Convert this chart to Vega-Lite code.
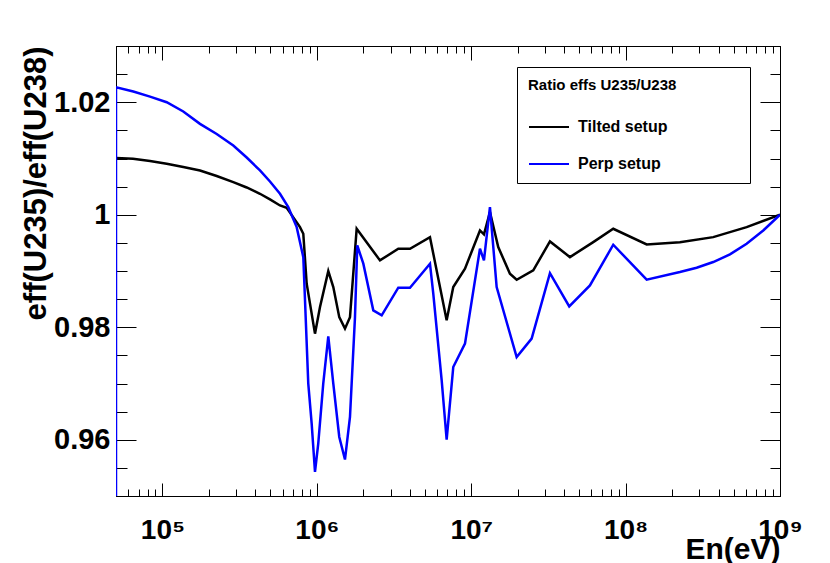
{
  "$schema": "https://vega.github.io/schema/vega-lite/v6.json",
  "autosize": {"type": "none"},
  "width": 664,
  "height": 450,
  "padding": {"left": 116, "top": 46, "right": 50, "bottom": 67},
  "background": "white",
  "config": {
    "font": "Liberation Sans",
    "view": {"stroke": "black", "strokeWidth": 1},
    "axis": {"grid": false, "domainColor": "black", "domainWidth": 1, "tickColor": "black", "tickWidth": 1, "labelColor": "black", "titleColor": "black", "labelFont": "Liberation Sans", "titleFont": "Liberation Sans", "labelFontWeight": "bold", "titleFontWeight": "bold"}
  },
  "data": {"values": [
    {"series": "Tilted setup", "i": 1, "E": 50000, "ratio": 1.0101},
    {"series": "Tilted setup", "i": 2, "E": 64440, "ratio": 1.00995},
    {"series": "Tilted setup", "i": 3, "E": 83050, "ratio": 1.00956},
    {"series": "Tilted setup", "i": 4, "E": 106500, "ratio": 1.00906},
    {"series": "Tilted setup", "i": 5, "E": 136400, "ratio": 1.00849},
    {"series": "Tilted setup", "i": 6, "E": 175000, "ratio": 1.00787},
    {"series": "Tilted setup", "i": 7, "E": 224500, "ratio": 1.00689},
    {"series": "Tilted setup", "i": 8, "E": 287500, "ratio": 1.00579},
    {"series": "Tilted setup", "i": 9, "E": 351200, "ratio": 1.00485},
    {"series": "Tilted setup", "i": 10, "E": 428100, "ratio": 1.00373},
    {"series": "Tilted setup", "i": 11, "E": 497000, "ratio": 1.00272},
    {"series": "Tilted setup", "i": 12, "E": 577000, "ratio": 1.00165},
    {"series": "Tilted setup", "i": 13, "E": 637600, "ratio": 1.00125},
    {"series": "Tilted setup", "i": 14, "E": 777600, "ratio": 0.9978},
    {"series": "Tilted setup", "i": 15, "E": 816900, "ratio": 0.99662},
    {"series": "Tilted setup", "i": 16, "E": 859300, "ratio": 0.98774},
    {"series": "Tilted setup", "i": 17, "E": 972500, "ratio": 0.97886},
    {"series": "Tilted setup", "i": 18, "E": 1048000, "ratio": 0.98359},
    {"series": "Tilted setup", "i": 19, "E": 1186000, "ratio": 0.98998},
    {"series": "Tilted setup", "i": 20, "E": 1278000, "ratio": 0.98714},
    {"series": "Tilted setup", "i": 21, "E": 1397000, "ratio": 0.9818},
    {"series": "Tilted setup", "i": 22, "E": 1521000, "ratio": 0.97975},
    {"series": "Tilted setup", "i": 23, "E": 1639000, "ratio": 0.9818},
    {"series": "Tilted setup", "i": 24, "E": 1811000, "ratio": 0.99751},
    {"series": "Tilted setup", "i": 25, "E": 2564000, "ratio": 0.99188},
    {"series": "Tilted setup", "i": 26, "E": 3369000, "ratio": 0.99396},
    {"series": "Tilted setup", "i": 27, "E": 4011000, "ratio": 0.99396},
    {"series": "Tilted setup", "i": 28, "E": 5404000, "ratio": 0.99602},
    {"series": "Tilted setup", "i": 29, "E": 6930000, "ratio": 0.98123},
    {"series": "Tilted setup", "i": 30, "E": 7648000, "ratio": 0.98714},
    {"series": "Tilted setup", "i": 31, "E": 9110000, "ratio": 0.99041},
    {"series": "Tilted setup", "i": 32, "E": 11390000, "ratio": 0.99721},
    {"series": "Tilted setup", "i": 33, "E": 12090000, "ratio": 0.9965},
    {"series": "Tilted setup", "i": 34, "E": 13220000, "ratio": 1.00047},
    {"series": "Tilted setup", "i": 35, "E": 14960000, "ratio": 0.99425},
    {"series": "Tilted setup", "i": 36, "E": 17810000, "ratio": 0.98952},
    {"series": "Tilted setup", "i": 37, "E": 19690000, "ratio": 0.98845},
    {"series": "Tilted setup", "i": 38, "E": 25220000, "ratio": 0.99011},
    {"series": "Tilted setup", "i": 39, "E": 32350000, "ratio": 0.99526},
    {"series": "Tilted setup", "i": 40, "E": 43580000, "ratio": 0.99247},
    {"series": "Tilted setup", "i": 41, "E": 61700000, "ratio": 0.99513},
    {"series": "Tilted setup", "i": 42, "E": 83150000, "ratio": 0.99751},
    {"series": "Tilted setup", "i": 43, "E": 136900000, "ratio": 0.99472},
    {"series": "Tilted setup", "i": 44, "E": 224700000, "ratio": 0.99513},
    {"series": "Tilted setup", "i": 45, "E": 369400000, "ratio": 0.99602},
    {"series": "Tilted setup", "i": 46, "E": 607900000, "ratio": 0.9978},
    {"series": "Tilted setup", "i": 47, "E": 1000000000, "ratio": 1.0},
    {"series": "Perp setup", "i": 0, "E": 50000, "ratio": 0.95},
    {"series": "Perp setup", "i": 1, "E": 50000, "ratio": 1.02266},
    {"series": "Perp setup", "i": 2, "E": 64730, "ratio": 1.0219},
    {"series": "Perp setup", "i": 3, "E": 83050, "ratio": 1.021},
    {"series": "Perp setup", "i": 4, "E": 106500, "ratio": 1.02},
    {"series": "Perp setup", "i": 5, "E": 136400, "ratio": 1.01835},
    {"series": "Perp setup", "i": 6, "E": 175000, "ratio": 1.01616},
    {"series": "Perp setup", "i": 7, "E": 224500, "ratio": 1.01435},
    {"series": "Perp setup", "i": 8, "E": 287500, "ratio": 1.01231},
    {"series": "Perp setup", "i": 9, "E": 351200, "ratio": 1.01018},
    {"series": "Perp setup", "i": 10, "E": 428100, "ratio": 1.00787},
    {"series": "Perp setup", "i": 11, "E": 497000, "ratio": 1.00591},
    {"series": "Perp setup", "i": 12, "E": 577000, "ratio": 1.00373},
    {"series": "Perp setup", "i": 13, "E": 652900, "ratio": 1.00135},
    {"series": "Perp setup", "i": 14, "E": 740100, "ratio": 0.9978},
    {"series": "Perp setup", "i": 15, "E": 816900, "ratio": 0.99247},
    {"series": "Perp setup", "i": 16, "E": 830000, "ratio": 0.98774},
    {"series": "Perp setup", "i": 17, "E": 879900, "ratio": 0.96998},
    {"series": "Perp setup", "i": 18, "E": 925600, "ratio": 0.96288},
    {"series": "Perp setup", "i": 19, "E": 972500, "ratio": 0.95428},
    {"series": "Perp setup", "i": 20, "E": 1021000, "ratio": 0.95933},
    {"series": "Perp setup", "i": 21, "E": 1100000, "ratio": 0.96998},
    {"series": "Perp setup", "i": 22, "E": 1186000, "ratio": 0.97838},
    {"series": "Perp setup", "i": 23, "E": 1278000, "ratio": 0.96998},
    {"series": "Perp setup", "i": 24, "E": 1397000, "ratio": 0.9605},
    {"series": "Perp setup", "i": 25, "E": 1521000, "ratio": 0.95648},
    {"series": "Perp setup", "i": 26, "E": 1639000, "ratio": 0.96405},
    {"series": "Perp setup", "i": 27, "E": 1766000, "ratio": 0.98181},
    {"series": "Perp setup", "i": 28, "E": 1827000, "ratio": 0.99455},
    {"series": "Perp setup", "i": 29, "E": 2000000, "ratio": 0.9913},
    {"series": "Perp setup", "i": 30, "E": 2320000, "ratio": 0.983},
    {"series": "Perp setup", "i": 31, "E": 2630000, "ratio": 0.98211},
    {"series": "Perp setup", "i": 32, "E": 3369000, "ratio": 0.98703},
    {"series": "Perp setup", "i": 33, "E": 4011000, "ratio": 0.98703},
    {"series": "Perp setup", "i": 34, "E": 5404000, "ratio": 0.9913},
    {"series": "Perp setup", "i": 35, "E": 5677000, "ratio": 0.98597},
    {"series": "Perp setup", "i": 36, "E": 6435000, "ratio": 0.97057},
    {"series": "Perp setup", "i": 37, "E": 6930000, "ratio": 0.96004},
    {"series": "Perp setup", "i": 38, "E": 7648000, "ratio": 0.97293},
    {"series": "Perp setup", "i": 39, "E": 9110000, "ratio": 0.97709},
    {"series": "Perp setup", "i": 40, "E": 11390000, "ratio": 0.99396},
    {"series": "Perp setup", "i": 41, "E": 12090000, "ratio": 0.99188},
    {"series": "Perp setup", "i": 42, "E": 13220000, "ratio": 1.00135},
    {"series": "Perp setup", "i": 43, "E": 14610000, "ratio": 0.98714},
    {"series": "Perp setup", "i": 44, "E": 19690000, "ratio": 0.97471},
    {"series": "Perp setup", "i": 45, "E": 24620000, "ratio": 0.97798},
    {"series": "Perp setup", "i": 46, "E": 32350000, "ratio": 0.98963},
    {"series": "Perp setup", "i": 47, "E": 43130000, "ratio": 0.98371},
    {"series": "Perp setup", "i": 48, "E": 58730000, "ratio": 0.98744},
    {"series": "Perp setup", "i": 49, "E": 83150000, "ratio": 0.99467},
    {"series": "Perp setup", "i": 50, "E": 136900000, "ratio": 0.98845},
    {"series": "Perp setup", "i": 51, "E": 224700000, "ratio": 0.98981},
    {"series": "Perp setup", "i": 52, "E": 288400000, "ratio": 0.99059},
    {"series": "Perp setup", "i": 53, "E": 369400000, "ratio": 0.99159},
    {"series": "Perp setup", "i": 54, "E": 474000000, "ratio": 0.99295},
    {"series": "Perp setup", "i": 55, "E": 607900000, "ratio": 0.99485},
    {"series": "Perp setup", "i": 56, "E": 779000000, "ratio": 0.99721},
    {"series": "Perp setup", "i": 57, "E": 1000000000, "ratio": 1.0}
  ]},
  "layer": [
    {
      "mark": {"type": "line", "strokeWidth": 2.5, "clip": true},
      "encoding": {
        "x": {"field": "E", "type": "quantitative",
          "scale": {"type": "log", "domain": [50000, 1000000000], "nice": false},
          "axis": {
            "orient": "bottom",
            "values": [60000,70000,80000,90000,100000,200000,300000,400000,500000,600000,700000,800000,900000,1000000,2000000,3000000,4000000,5000000,6000000,7000000,8000000,9000000,10000000,20000000,30000000,40000000,50000000,60000000,70000000,80000000,90000000,100000000,200000000,300000000,400000000,500000000,600000000,700000000,800000000,900000000,1000000000],
            "tickSize": {"condition": {"test": "abs(log(datum.value)/LN10 - round(log(datum.value)/LN10)) < 0.001", "value": -13}, "value": -7},
            "labelExpr": "abs(log(datum.value)/LN10 - round(log(datum.value)/LN10)) < 0.001 ? '10' + ['⁰','¹','²','³','⁴','⁵','⁶','⁷','⁸','⁹'][round(log(datum.value)/LN10)] : ''",
            "labelFontSize": 28,
            "labelBaseline": "alphabetic",
            "labelPadding": 55,
            "labelOverlap": false,
            "labelFlush": false,
            "title": "En(eV)",
            "titleFontSize": 30,
            "titleAlign": "right",
            "titleAnchor": "end",
            "titleX": 664,
            "titleY": 62,
            "titleBaseline": "alphabetic"
          }
        },
        "y": {"field": "ratio", "type": "quantitative",
          "scale": {"domain": [0.95, 1.03], "nice": false, "zero": false},
          "axis": {
            "orient": "left",
            "values": [0.95,0.955,0.96,0.965,0.97,0.975,0.98,0.985,0.99,0.995,1,1.005,1.01,1.015,1.02,1.025,1.03],
            "tickSize": {"condition": {"test": "abs(datum.value*50 - round(datum.value*50)) < 0.001", "value": -20}, "value": -11},
            "labelExpr": "abs(datum.value*50 - round(datum.value*50)) < 0.001 ? format(datum.value, '.3~g') : ''",
            "labelFontSize": 29,
            "labelPadding": 26,
            "labelOverlap": false,
            "labelFlush": false,
            "title": "eff(U235)/eff(U238)",
            "titleFontSize": 31,
            "titleAngle": 270,
            "titleAlign": "right",
            "titleAnchor": "end",
            "titleX": -71,
            "titleY": 0,
            "titleBaseline": "alphabetic"
          }
        },
        "order": {"field": "i", "type": "quantitative"},
        "color": {"field": "series", "type": "nominal",
          "scale": {"domain": ["Tilted setup", "Perp setup"], "range": ["#000000", "#0000ff"]},
          "legend": {
            "orient": "none",
            "legendX": 401,
            "legendY": 21,
            "title": "Ratio effs U235/U238\u00a0\u00a0\u00a0\u00a0\u00a0\u00a0\u00a0\u00a0\u00a0\u00a0\u00a0\u00a0\u00a0\u00a0\u00a0\u200b",
            "titleLimit": 400,
            "titleFont": "Liberation Sans",
            "titleFontSize": 15,
            "titleFontWeight": "bold",
            "titleColor": "black",
            "titlePadding": 13,
            "labelFont": "Liberation Sans",
            "labelFontSize": 16,
            "labelFontWeight": "bold",
            "labelColor": "black",
            "labelOffset": 8,
            "symbolType": "stroke",
            "symbolSize": 1600,
            "symbolStrokeWidth": 2,
            "rowPadding": 8,
            "padding": 11,
            "strokeColor": "black",
            "fillColor": "white"
          }
        }
      }
    },
    {
      "mark": {"type": "line", "opacity": 0},
      "encoding": {
        "x": {"field": "E", "type": "quantitative",
          "axis": {
            "orient": "top",
            "values": [60000,70000,80000,90000,100000,200000,300000,400000,500000,600000,700000,800000,900000,1000000,2000000,3000000,4000000,5000000,6000000,7000000,8000000,9000000,10000000,20000000,30000000,40000000,50000000,60000000,70000000,80000000,90000000,100000000,200000000,300000000,400000000,500000000,600000000,700000000,800000000,900000000,1000000000],
            "tickSize": {"condition": {"test": "abs(log(datum.value)/LN10 - round(log(datum.value)/LN10)) < 0.001", "value": -14}, "value": -7},
            "labels": false,
            "title": null
          }
        },
        "y": {"field": "ratio", "type": "quantitative",
          "axis": {
            "orient": "right",
            "values": [0.95,0.955,0.96,0.965,0.97,0.975,0.98,0.985,0.99,0.995,1,1.005,1.01,1.015,1.02,1.025,1.03],
            "tickSize": {"condition": {"test": "abs(datum.value*50 - round(datum.value*50)) < 0.001", "value": -20}, "value": -10},
            "labels": false,
            "title": null
          }
        },
        "detail": {"field": "series", "type": "nominal"},
        "order": {"field": "i", "type": "quantitative"}
      }
    }
  ],
  "resolve": {"axis": {"x": "independent", "y": "independent"}}
}
